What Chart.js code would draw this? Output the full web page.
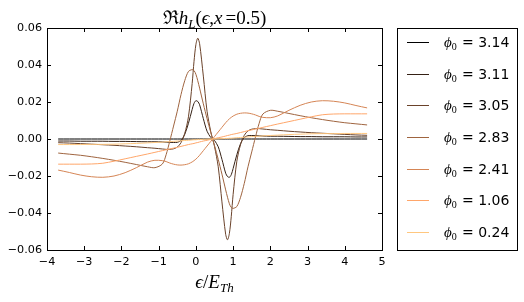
<!DOCTYPE html>
<html><head><meta charset="utf-8">
<script src="https://cdn.jsdelivr.net/npm/chart.js@4.4.0/dist/chart.umd.min.js"></script>
<style>html,body{margin:0;padding:0;background:#fff}canvas{display:block}</style>
</head><body>
<canvas id="c" width="524" height="302"></canvas>
<script>
// energy grid (epsilon / E_Th)
const eps = [-3.7,-3.4,-3.1,-2.8,-2.5,-2.2,-1.9,-1.6,-1.3,-1.1,-0.9,-0.8,-0.7,-0.6,-0.5,-0.4,-0.3,-0.2,-0.1,-0.05,0.0,0.05,0.1,0.2,0.3,0.4,
  0.45,
  0.5,0.6,0.7,0.8,0.85,0.9,0.95,1.0,1.1,1.2,1.3,1.4,1.5,1.6,1.7,1.8,2.0,2.2,2.5,2.8,3.1,3.4,3.7,4.0,4.3,4.6];

const phiLabels = ['3.14','3.11','3.05','2.83','2.41','1.06','0.24'];

const s314 = [0,0,0,0,0,0,0,0,0,0,0,0,0,0,0,0,0,0,0,0,0,0,0,0,0,0,
  0,
  0,0,0,0,0,0,0,0,0,0,0,0,0,0,0,0,0,0,0,0,0,0,0,0,0,0];
const s311 = [-0.0011,-0.0011,-0.0012,-0.0012,-0.0012,-0.0013,-0.0013,-0.0014,-0.0015,-0.0015,-0.0016,-0.0017,-0.0018,-0.0019,-0.0018,-0.0008,0.0025,0.0085,0.0160,0.0193,0.0207,0.0203,0.0185,0.0110,0.0042,0.0008,
  0,
  -0.0008,-0.0042,-0.0110,-0.0185,-0.0203,-0.0207,-0.0193,-0.0160,-0.0085,-0.0025,0.0008,0.0018,0.0019,0.0018,0.0017,0.0016,0.0015,0.0015,0.0014,0.0013,0.0013,0.0012,0.0012,0.0012,0.0011,0.0011];
const s305 = [-0.0020,-0.0022,-0.0025,-0.0028,-0.0031,-0.0034,-0.0038,-0.0042,-0.0047,-0.0050,-0.0054,-0.0056,-0.0056,-0.0053,-0.0044,-0.0020,0.0030,0.0120,0.0300,0.0420,0.0510,0.0545,0.0515,0.0340,0.0150,0.0040,
  0,
  -0.0040,-0.0150,-0.0340,-0.0515,-0.0545,-0.0510,-0.0420,-0.0300,-0.0120,-0.0030,0.0020,0.0044,0.0053,0.0056,0.0056,0.0054,0.0050,0.0047,0.0042,0.0038,0.0034,0.0031,0.0028,0.0025,0.0022,0.0020];
const s283 = [-0.0076,-0.0082,-0.0088,-0.0096,-0.0105,-0.0115,-0.0126,-0.0138,-0.0150,-0.0155,-0.0135,-0.0085,-0.0010,0.0070,0.0150,0.0240,0.0315,0.0365,0.0375,0.0370,0.0350,0.0315,0.0275,0.0190,0.0110,0.0035,
  0,
  -0.0035,-0.0110,-0.0190,-0.0275,-0.0315,-0.0350,-0.0370,-0.0375,-0.0365,-0.0315,-0.0240,-0.0150,-0.0070,0.0010,0.0085,0.0135,0.0155,0.0150,0.0138,0.0126,0.0115,0.0105,0.0096,0.0088,0.0082,0.0076];
const s241 = [-0.0168,-0.0181,-0.0195,-0.0204,-0.0207,-0.0200,-0.0182,-0.0155,-0.0125,-0.0115,-0.0117,-0.0122,-0.0130,-0.0136,-0.0140,-0.0141,-0.0139,-0.0134,-0.0124,-0.0117,-0.0109,-0.0099,-0.0088,-0.0063,-0.0038,-0.0013,
  0,
  0.0013,0.0038,0.0063,0.0088,0.0099,0.0109,0.0117,0.0124,0.0134,0.0139,0.0141,0.0140,0.0136,0.0130,0.0122,0.0117,0.0115,0.0125,0.0155,0.0182,0.0200,0.0207,0.0204,0.0195,0.0181,0.0168];
const s106 = [-0.0136,-0.0136,-0.0136,-0.0135,-0.0131,-0.0120,-0.0107,-0.0094,-0.0081,-0.0072,-0.0063,-0.0058,-0.0054,-0.0049,-0.0045,-0.0040,-0.0035,-0.0030,-0.0026,-0.0024,-0.0021,-0.0019,-0.0016,-0.0011,-0.0007,-0.0002,
  0,
  0.0002,0.0007,0.0011,0.0016,0.0019,0.0021,0.0024,0.0026,0.0030,0.0035,0.0040,0.0045,0.0049,0.0054,0.0058,0.0063,0.0072,0.0081,0.0094,0.0107,0.0120,0.0131,0.0135,0.0136,0.0136,0.0136];
const s024 = [-0.0030,-0.0030,-0.0030,-0.0029,-0.0029,-0.0028,-0.0026,-0.0024,-0.0021,-0.0019,-0.0017,-0.0015,-0.0014,-0.0013,-0.0011,-0.0010,-0.0008,-0.0007,-0.0005,-0.0004,-0.0004,-0.0003,-0.0003,-0.0002,-0.0001,0.0000,
  0,
  0.0000,0.0001,0.0002,0.0003,0.0003,0.0004,0.0004,0.0005,0.0007,0.0008,0.0010,0.0011,0.0013,0.0014,0.0015,0.0017,0.0019,0.0021,0.0024,0.0026,0.0028,0.0029,0.0029,0.0030,0.0030,0.0030];

const series = [s314, s311, s305, s283, s241, s106, s024];
const colors = ['rgb(0,0,0)','rgb(53,33,21)','rgb(106,66,42)','rgb(159,100,63)','rgb(213,133,85)','rgb(255,166,106)','rgb(255,199,127)'];

const xTicks = [-4,-3,-2,-1,0,1,2,3,4,5];
const yTicks = [-0.06,-0.04,-0.02,0,0.02,0.04,0.06];

const SERIF = "'Liberation Serif','DejaVu Serif',serif";
const SANS = "'DejaVu Sans',sans-serif";
const minus = s => s.replace('-', '\u2212');

function drawPieces(ctx, pieces, cx, baseline){
  let total = 0;
  pieces.forEach(p => { ctx.font = p.f; p.w = ctx.measureText(p.t).width; total += p.w + (p.gap||0); });
  let x = cx - total/2;
  ctx.textAlign = 'left'; ctx.textBaseline = 'alphabetic'; ctx.fillStyle = '#000';
  pieces.forEach(p => { ctx.font = p.f; ctx.fillText(p.t, x, baseline + (p.dy||0)); x += p.w + (p.gap||0); });
}

const decorPlugin = {
  id: 'decor',
  afterDatasetsDraw(chart){
    const {ctx, chartArea: a, scales: {x, y}} = chart;
    ctx.save();
    ctx.strokeStyle = '#000'; ctx.lineWidth = 1;
    ctx.beginPath();
    xTicks.forEach(v => {
      const px = Math.round(x.getPixelForValue(v)) + 0.5;
      ctx.moveTo(px, a.bottom); ctx.lineTo(px, a.bottom - 4);
      ctx.moveTo(px, a.top); ctx.lineTo(px, a.top + 4);
    });
    yTicks.forEach(v => {
      const py = Math.round(y.getPixelForValue(v)) + 0.5;
      ctx.moveTo(a.left, py); ctx.lineTo(a.left + 4, py);
      ctx.moveTo(a.right, py); ctx.lineTo(a.right - 4, py);
    });
    ctx.stroke();
    ctx.strokeRect(Math.round(a.left) + 0.5, Math.round(a.top) + 0.5, Math.round(a.right - a.left), Math.round(a.bottom - a.top));
    ctx.restore();
  },
  afterDraw(chart){
    const {ctx, chartArea: a} = chart;
    ctx.save();
    const cx = (a.left + a.right) / 2;
    // title
    const S = 19;
    drawPieces(ctx, [
      {t:'\u211C', f:`${S}px ${SERIF}`},
      {t:'h', f:`italic ${S}px ${SERIF}`},
      {t:'L', f:`italic ${Math.round(S*0.7)}px ${SERIF}`, dy:4},
      {t:'(', f:`${S}px ${SERIF}`},
      {t:'\u03F5', f:`italic ${S}px ${SERIF}`},
      {t:',', f:`${S}px ${SERIF}`},
      {t:'x', f:`italic ${S}px ${SERIF}`, gap:3},
      {t:'=', f:`${S}px ${SERIF}`},
      {t:'0.5', f:`${S}px ${SERIF}`},
      {t:')', f:`${S}px ${SERIF}`}
    ], cx, 24);
    // x label
    drawPieces(ctx, [
      {t:'\u03F5', f:`italic ${S}px ${SERIF}`},
      {t:'/', f:`${S}px ${SERIF}`},
      {t:'E', f:`italic ${S}px ${SERIF}`},
      {t:'Th', f:`italic ${Math.round(S*0.7)}px ${SERIF}`, dy:4}
    ], cx, 288);
    // legend
    const L = 397, T = 28, R = 517, B = 250;
    ctx.fillStyle = '#fff';
    ctx.fillRect(L, T, R - L, B - T);
    ctx.strokeStyle = '#000'; ctx.lineWidth = 1;
    ctx.strokeRect(L + 0.5, T + 0.5, R - L, B - T);
    const step = (B - T) / phiLabels.length;
    phiLabels.forEach((lab, i) => {
      const yc = T + step * (i + 0.5) - 2;
      ctx.strokeStyle = colors[i];
      ctx.beginPath(); ctx.moveTo(407, Math.round(yc) + 0.5); ctx.lineTo(429, Math.round(yc) + 0.5); ctx.stroke();
      ctx.fillStyle = '#000'; ctx.textAlign = 'left'; ctx.textBaseline = 'alphabetic';
      ctx.font = `italic 15px ${SERIF}`;
      ctx.fillText('\u03D5', 444, yc + 5);
      const w = ctx.measureText('\u03D5').width;
      ctx.font = `10px ${SERIF}`;
      ctx.fillText('0', 444 + w, yc + 8);
      ctx.font = `14px ${SANS}`;
      ctx.fillText('= ' + lab, 462, yc + 5);
    });
    ctx.restore();
  }
};

Chart.defaults.color = '#000';
Chart.defaults.font.family = SANS;

new Chart(document.getElementById('c'), {
  type: 'line',
  data: {
    datasets: series.map((s, i) => ({
      label: '\u03D5\u2080 = ' + phiLabels[i],
      data: eps.map((e, k) => ({x: e, y: s[k]})),
      borderColor: colors[i],
      borderWidth: 1,
      pointRadius: 0,
      tension: 0.3,
      fill: false,
      order: series.length - i
    }))
  },
  options: {
    responsive: false,
    animation: false,
    events: [],
    layout: {padding: {left: 0, top: 28, right: 142, bottom: 0}},
    plugins: {legend: {display: false}, tooltip: {enabled: false}, title: {display: false}},
    scales: {
      x: {
        type: 'linear', min: -4, max: 5,
        grid: {display: false, drawTicks: false},
        border: {display: false},
        afterBuildTicks: s => { s.ticks = xTicks.map(v => ({value: v})); },
        afterFit: s => { s.height = 52; },
        ticks: {padding: 5, font: {size: 11.2, family: SANS}, color: '#000', maxRotation: 0,
          callback: v => minus(String(v))}
      },
      y: {
        type: 'linear', min: -0.06, max: 0.06,
        grid: {display: false, drawTicks: false},
        border: {display: false},
        afterBuildTicks: s => { s.ticks = yTicks.map(v => ({value: v})); },
        afterFit: s => { s.width = 47; },
        ticks: {padding: 5, font: {size: 11.2, family: SANS}, color: '#000',
          callback: v => Math.abs(v) < 1e-9 ? '0.00' : minus(v.toFixed(2))}
      }
    }
  },
  plugins: [decorPlugin]
});
</script>
</body></html>
